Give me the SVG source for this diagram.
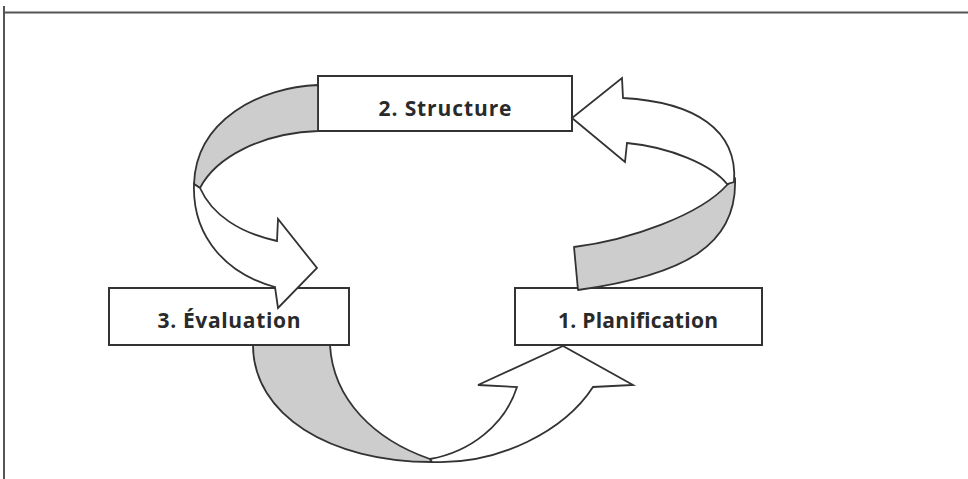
<svg xmlns="http://www.w3.org/2000/svg" width="968" height="479" viewBox="0 0 968 479">
<style>
.frame{stroke:#555;stroke-width:2;fill:none}
.box{fill:#fff;stroke:#333;stroke-width:2}
.lbl{font-family:"Open Sans","Liberation Sans",sans-serif;font-weight:bold;font-size:21px;fill:#2a2a2a;text-anchor:middle}
.back{fill:#cdcdcd;stroke:#333;stroke-width:1.8;stroke-linejoin:round}
.front{fill:#fff;stroke:#333;stroke-width:1.8;stroke-linejoin:miter}
</style>
<rect width="968" height="479" fill="#fff"/>
<g id="frame">
<line class="frame" x1="4" y1="12.5" x2="968" y2="12.5"/>
<line class="frame" x1="4" y1="6" x2="4" y2="479"/>
</g>
<g id="node-structure">
<rect class="box" x="318" y="76" width="254" height="55"/>
<text class="lbl" x="445" y="116" textLength="133" lengthAdjust="spacing">2. Structure</text>
</g>
<g id="node-evaluation">
<rect class="box" x="109" y="288" width="240" height="57"/>
<text class="lbl" x="229" y="328" textLength="143" lengthAdjust="spacing">3. Évaluation</text>
</g>
<g id="node-planification">
<rect class="box" x="515" y="288" width="247" height="57"/>
<text class="lbl" x="638" y="328" textLength="160" lengthAdjust="spacing">1. Planification</text>
</g>
<g id="connectors">
<g id="arrow-structure-evaluation">
<path class="back" d="M318,85 C260,87 196,120 194,184 L200,188 C216,157 262,133 318,131 Z"/>
<path class="front" d="M194,184 C192,240 230,275 275,287 L278,308 L317,268 L278,219 L277,241 C240,233 212,215 200,188 Z"/>
</g>
<g id="arrow-planification-structure">
<path class="back" d="M574,247 C630,240 700,215 727,185 L735,178 C738,245 685,275 578,290 Z"/>
<path class="front" d="M734,182 C738,130 695,102 623,98 L622,78 L572,118 L625,162 L627,143 C670,147 712,165 727,184 Z"/>
</g>
<g id="arrow-evaluation-planification">
<path class="back" d="M253,345 C253,415 330,462 432,462 L430,459 C375,440 333,400 330,345 Z"/>
<path class="front" d="M432,462 C500,465 565,430 593,387 L633,385 L563,346 L478,385 L517,387 C505,425 470,452 430,459 Z"/>
</g>
</g>
</svg>
